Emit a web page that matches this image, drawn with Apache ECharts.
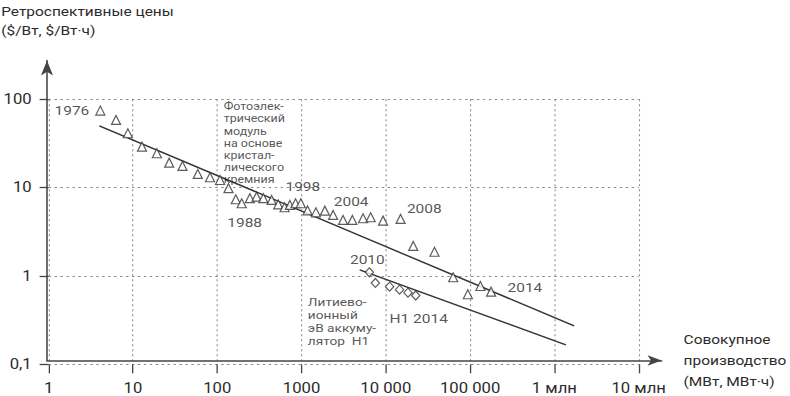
<!DOCTYPE html>
<html>
<head>
<meta charset="utf-8">
<script src="https://cdn.jsdelivr.net/npm/echarts@6/dist/echarts.min.js"></script>
<style>
  html, body { margin: 0; padding: 0; background: #fff; overflow: hidden; }
  /* шрифт в оригинале широкий: рисуем в 664px и растягиваем до 790px */
  #learning-curve { width: 664px; height: 396px; transform: scaleX(1.1898); transform-origin: 0 0; }
</style>
</head>
<body>
<div id="learning-curve"></div>
<script>
// фотоэлектрические модули: совокупное производство (МВт) и цена ($/Вт)
var pvProduction = [4.1, 6.3, 8.7, 12.8, 19.2, 26.9, 38.7, 58.8, 82, 108,
  136, 166, 195, 244, 293, 352, 442, 530, 629, 727,
  849, 981, 1180, 1480, 1890, 2370, 3110, 4010, 5370, 6610,
  9270, 14970, 21150, 37800, 62950, 94000, 132500, 177400];
var pvPrice = [74.5, 58.4, 41.3, 29.1, 24.5, 19.2, 17.6, 14.3, 13.1, 12.2,
  9.85, 7.39, 6.66, 7.59, 7.91, 7.59, 7.26, 6.45, 6.0, 6.37,
  6.66, 6.66, 5.52, 5.26, 5.49, 4.91, 4.31, 4.31, 4.5, 4.62,
  4.23, 4.42, 2.19, 1.88, 0.967, 0.621, 0.77, 0.664];

// литиево-ионные аккумуляторы: МВт·ч и $/Вт·ч
var liProduction = [6380, 7520, 11090, 14560, 18320, 22650];
var liPrice = [1.10, 0.833, 0.757, 0.70, 0.647, 0.601];

// линии тренда (кривые обучения)
var pvTrendX = [3.99, 1715000];
var pvTrendY = [50, 0.272];
var liTrendX = [4900, 1370000];
var liTrendY = [1.17, 0.166];

var xTickLabels = ["1", "10", "100", "1000", "10 000", "100 000", "1 млн", "10 млн"];
var yTickLabels = ["0,1", "1", "10", "100"];

var pvNote = "Фотоэлек-\nтрический\nмодуль\nна основе\nкристал-\nлического\nкремния";
var liNote = "Литиево-\nионный\nэВ аккуму-\nлятор  Н1";

var ink = "#2b2b2b";
var font = "Roboto";

function pairs(xs, ys) {
  var out = [];
  for (var i = 0; i < xs.length; i++) out.push([xs[i], ys[i]]);
  return out;
}

// подписи, привязанные к точкам
var pvData = pairs(pvProduction, pvPrice);
pvData[0] = { value: pvData[0], label: { show: true, formatter: "1976", position: "left", distance: 5 } };
pvData[9] = { value: pvData[9], label: { show: true, formatter: pvNote, position: [7.4, -74.5], fontSize: 10.5, lineHeight: 12.2 } };
pvData[12] = { value: pvData[12], label: { show: true, formatter: "1988", position: "bottom", distance: 8, offset: [2.5, 0] } };
pvData[21] = { value: pvData[21], label: { show: true, formatter: "1998", position: "top", distance: 5, offset: [1.7, 0] } };
pvData[27] = { value: pvData[27], label: { show: true, formatter: "2004", position: "top", distance: 7, offset: [-1, 0] } };
pvData[31] = { value: pvData[31], label: { show: true, formatter: "2008", position: "right", distance: 1, offset: [0, -11] } };
pvData[37] = { value: pvData[37], label: { show: true, formatter: "2014", position: "right", distance: 9.5, offset: [0, -4] } };

var liData = pairs(liProduction, liPrice);
liData[0] = { value: liData[0], label: { show: true, formatter: "2010", position: "top", distance: 1, offset: [-1.7, 0] } };
liData[1] = { value: liData[1], label: { show: true, formatter: liNote, position: [-52.8, 17], fontSize: 11.5, lineHeight: 13.2 } };
liData[5] = { value: liData[5], label: { show: true, formatter: "H1 2014", position: "bottom", distance: 11, offset: [2.5, 0] } };

var chart = echarts.init(document.getElementById("learning-curve"), null, { renderer: "svg" });

var option = {
  animation: false,
  textStyle: { fontFamily: font, color: ink },
  title: {
    text: "Ретроспективные цены\n($/Вт, $/Вт·ч)",
    left: -4,
    top: -3,
    textStyle: { fontFamily: font, fontSize: 13, fontWeight: "normal", color: ink, lineHeight: 19 }
  },
  grid: [
    { left: 39.5, right: 127.2, top: 99.3, bottom: 31.7 },
    { left: 39.5, right: 104.3, top: 60.5, bottom: 31.7 }
  ],
  xAxis: [
    {
      type: "log",
      gridIndex: 0,
      min: 1,
      max: 10000000,
      axisLine: { show: false },
      axisTick: { show: true, length: 9, lineStyle: { color: "#444", width: 1.1 } },
      axisLabel: {
        margin: 17,
        fontSize: 14,
        color: ink,
        fontFamily: font,
        formatter: function (v) { return xTickLabels[Math.round(Math.log10(v))]; }
      },
      splitLine: { show: true, lineStyle: { color: "#8a8a8a", width: 0.9, type: [2, 3] } }
    },
    {
      type: "value",
      gridIndex: 1,
      min: 0,
      max: 1,
      name: "Совокупное\nпроизводство\n(МВт, МВт·ч)",
      nameLocation: "end",
      nameGap: 18.5,
      nameTextStyle: { fontSize: 13, color: ink, fontFamily: font, lineHeight: 21, align: "left", padding: [8, 0, 0, 0] },
      axisLine: { show: true, symbol: ["none", "arrow"], symbolSize: [8, 11.8], lineStyle: { color: "#444", width: 1.5 } },
      axisTick: { show: false },
      axisLabel: { show: false },
      splitLine: { show: false }
    }
  ],
  yAxis: [
    {
      type: "log",
      gridIndex: 0,
      min: 0.1,
      max: 100,
      axisLine: { show: false },
      axisTick: { show: true, length: 7.6, lineStyle: { color: "#444", width: 1.3 } },
      axisLabel: {
        margin: 14.3,
        fontSize: 14,
        color: ink,
        fontFamily: font,
        formatter: function (v) { return yTickLabels[Math.round(Math.log10(v)) + 1]; }
      },
      splitLine: { show: true, lineStyle: { color: "#8a8a8a", width: 0.9, type: [2, 3] } }
    },
    {
      type: "value",
      gridIndex: 1,
      min: 0,
      max: 1,
      axisLine: { show: true, symbol: ["none", "arrow"], symbolSize: [7.6, 15], lineStyle: { color: "#444", width: 1.3 } },
      axisTick: { show: false },
      axisLabel: { show: false },
      splitLine: { show: false }
    }
  ],
  series: [
    {
      name: "тренд ФЭ",
      type: "line",
      xAxisIndex: 0,
      yAxisIndex: 0,
      data: pairs(pvTrendX, pvTrendY),
      symbol: "none",
      lineStyle: { color: "#333", width: 1.4 },
      z: 2
    },
    {
      name: "тренд Li",
      type: "line",
      xAxisIndex: 0,
      yAxisIndex: 0,
      data: pairs(liTrendX, liTrendY),
      symbol: "none",
      lineStyle: { color: "#333", width: 1.4 },
      z: 2
    },
    {
      name: "ФЭ модули",
      type: "scatter",
      xAxisIndex: 0,
      yAxisIndex: 0,
      data: pvData,
      symbol: "triangle",
      symbolSize: [7.6, 9],
      itemStyle: { color: "#fff", borderColor: "#333", borderWidth: 1.1 },
      label: { fontSize: 13, color: ink, fontFamily: font },
      z: 3
    },
    {
      name: "Li-ion",
      type: "scatter",
      xAxisIndex: 0,
      yAxisIndex: 0,
      data: liData,
      symbol: "diamond",
      symbolSize: [7, 9],
      itemStyle: { color: "#fff", borderColor: "#333", borderWidth: 1.1 },
      label: { fontSize: 13, color: ink, fontFamily: font },
      z: 3
    }
  ]
};

chart.setOption(option);
</script>
</body>
</html>
